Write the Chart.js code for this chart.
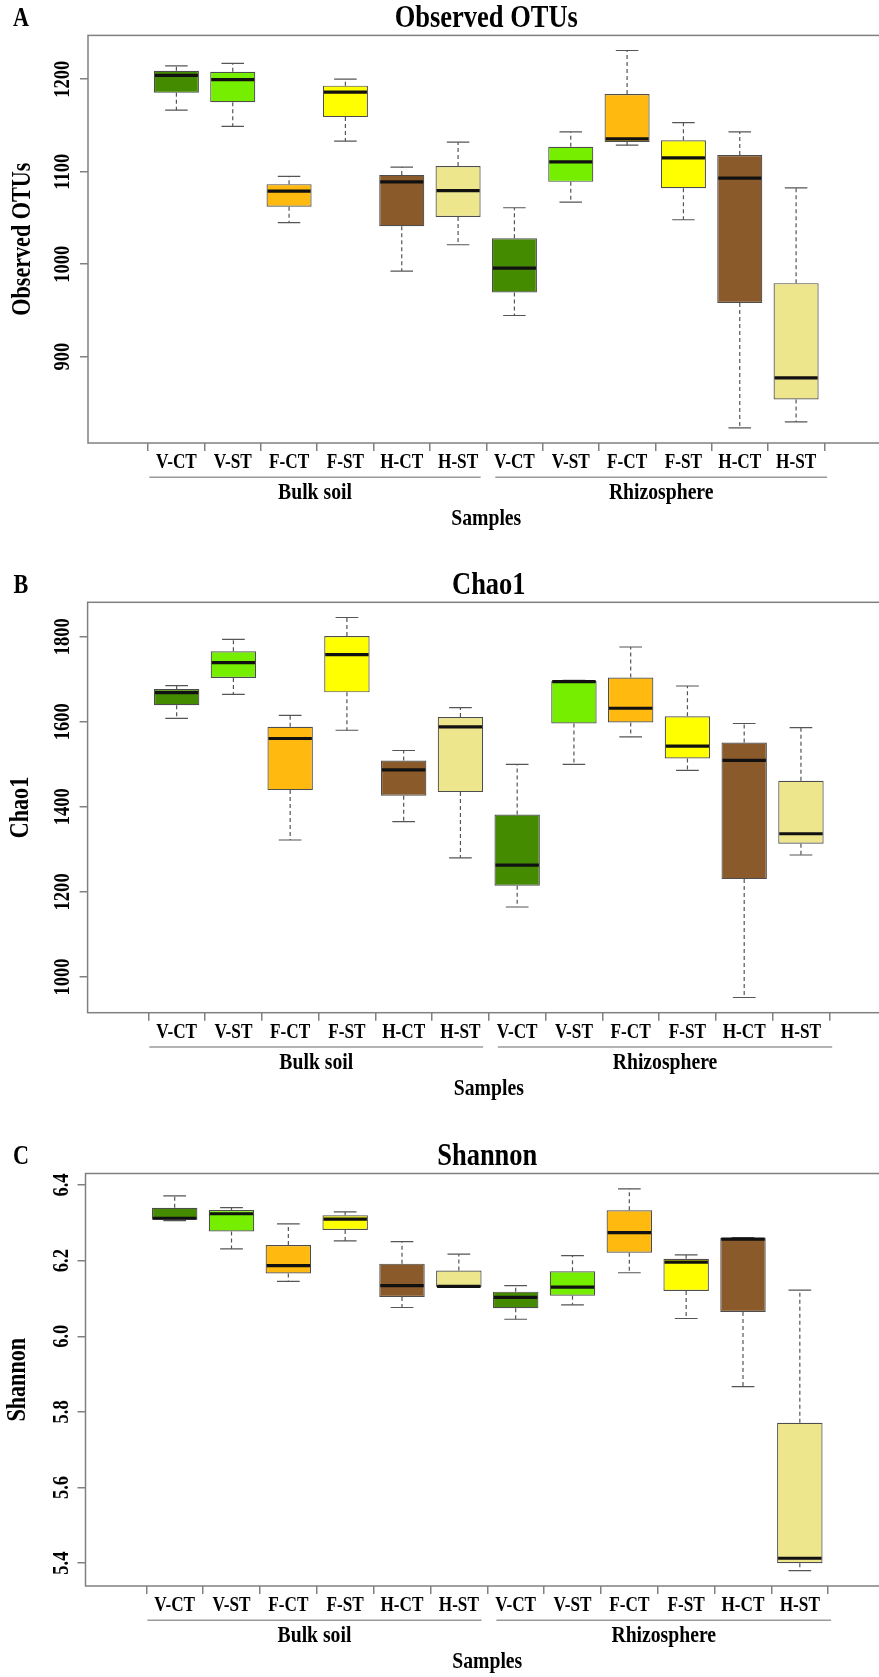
<!DOCTYPE html>
<html>
<head>
<meta charset="utf-8">
<script src="https://cdn.jsdelivr.net/npm/chart.js@4.4.1/dist/chart.umd.min.js"></script>
<style>
  html, body { margin: 0; padding: 0; background: #fff; overflow: hidden; }
  #page { position: relative; width: 879px; height: 1677px; overflow: hidden; background: #fff; }
  #page canvas { position: absolute; left: 0; }
</style>
</head>
<body>
<div id="page">
  <canvas id="chartA" width="892" height="545" style="top:0px"></canvas>
  <canvas id="chartB" width="892" height="550" style="top:560px"></canvas>
  <canvas id="chartC" width="892" height="553" style="top:1130px"></canvas>
</div>
<script>
// --- data ---
const categories = ["V-CT", "V-ST", "F-CT", "F-ST", "H-CT", "H-ST",
                    "V-CT", "V-ST", "F-CT", "F-ST", "H-CT", "H-ST"];
const groups = ["Bulk soil", "Rhizosphere"];
const boxColors = ["#458B00", "#76EE00", "#FFB90F", "#FFFF00", "#8B5A2B", "#EEE68C",
                   "#458B00", "#76EE00", "#FFB90F", "#FFFF00", "#8B5A2B", "#EEE68C"];

// Observed OTUs
const otuLow    = [1166.5, 1149, 1045, 1133, 992.5, 1021, 944.5, 1067, 1128.6, 1048, 823, 829.5];
const otuQ1     = [1185.2, 1175, 1062, 1159, 1041, 1051, 969.4, 1089, 1132, 1082, 958, 853.7];
const otuMedian = [1204, 1199.6, 1079, 1186, 1089, 1079.5, 995.7, 1110.6, 1135.5, 1115, 1093, 877];
const otuQ3     = [1209, 1208, 1086.5, 1193, 1096.5, 1106, 1028, 1127, 1184, 1134, 1118, 979.5];
const otuHigh   = [1214.4, 1217, 1095, 1200, 1105, 1132, 1061, 1143, 1231, 1153, 1143, 1082.5];
const otuTicks  = [900, 1000, 1100, 1200];

// Chao1
const chaoLow    = [1608, 1664.5, 1322, 1580, 1365, 1280, 1164.5, 1499.5, 1564.5, 1485.5, 951.7, 1286.7];
const chaoQ1     = [1638.7, 1703, 1439.3, 1669, 1426, 1434.5, 1214.5, 1595.8, 1598, 1513.6, 1230, 1313];
const chaoMedian = [1668.5, 1739, 1560.5, 1757.7, 1487, 1588, 1263, 1694.4, 1631.7, 1542.5, 1509, 1336.7];
const chaoQ3     = [1677, 1765.5, 1588, 1801.5, 1509, 1611, 1382, 1696, 1703.7, 1613, 1551, 1461];
const chaoHigh   = [1685, 1793.7, 1615, 1845, 1532.4, 1633, 1499.5, 1697.4, 1775.6, 1684, 1595.8, 1586];
const chaoTicks  = [1000, 1200, 1400, 1600, 1800];

// Shannon
const shannonLow    = [6.306, 6.231, 6.145, 6.252, 6.076, 6.130, 6.045, 6.083, 6.168, 6.047, 5.867, 5.380];
const shannonQ1     = [6.308, 6.277, 6.166, 6.281, 6.104, 6.130, 6.074, 6.107, 6.221, 6.120, 6.064, 5.400];
const shannonMedian = [6.312, 6.324, 6.187, 6.310, 6.134, 6.132, 6.103, 6.130, 6.274, 6.196, 6.257, 5.413];
const shannonQ3     = [6.340, 6.334, 6.241, 6.320, 6.192, 6.174, 6.118, 6.172, 6.333, 6.205, 6.260, 5.771];
const shannonHigh   = [6.371, 6.340, 6.297, 6.329, 6.250, 6.217, 6.134, 6.213, 6.390, 6.215, 6.261, 6.122];
const shannonTicks  = [5.4, 5.6, 5.8, 6.0, 6.2, 6.4];

const SERIF = '"Liberation Serif", "Times New Roman", Times, serif';
Chart.defaults.font.family = SERIF;
Chart.defaults.color = "#000";

// the figure uses a narrow bold serif: squeeze every glyph run along its own baseline
function condenseText(ctx, sx) {
  const fill = ctx.fillText.bind(ctx);
  ctx.fillText = function (text, x, y) {
    this.save();
    this.translate(x, y);
    this.scale(sx, 1);
    fill(text, 0, 0);
    this.restore();
  };
}

// frame, whiskers, medians, group rules, panel letter
function boxPlugin(p) {
  return {
    id: "box" + p.letter,
    afterDatasetsDraw(chart) {
      const { ctx } = chart;
      const xs = chart.scales.x, ys = chart.scales.y;
      const unit = xs.getPixelForValue(1) - xs.getPixelForValue(0);
      ctx.save();
      p.low.forEach((lo, i) => {
        const x = xs.getPixelForValue(i + 1);
        const yLo = ys.getPixelForValue(lo);
        const yHi = ys.getPixelForValue(p.high[i]);
        const yQ1 = ys.getPixelForValue(p.q1[i]);
        const yQ3 = ys.getPixelForValue(p.q3[i]);
        const yMed = ys.getPixelForValue(p.median[i]);
        ctx.strokeStyle = "#555";
        ctx.lineWidth = 1.2;
        ctx.setLineDash([4, 3]);
        ctx.beginPath();
        ctx.moveTo(x, yQ3); ctx.lineTo(x, yHi);
        ctx.moveTo(x, yQ1); ctx.lineTo(x, yLo);
        ctx.stroke();
        ctx.setLineDash([]);
        ctx.beginPath();
        ctx.moveTo(x - 0.2 * unit, yHi); ctx.lineTo(x + 0.2 * unit, yHi);
        ctx.moveTo(x - 0.2 * unit, yLo); ctx.lineTo(x + 0.2 * unit, yLo);
        ctx.stroke();
        ctx.strokeStyle = "#111";
        ctx.lineWidth = 3.2;
        ctx.beginPath();
        ctx.moveTo(x - 0.4 * unit + 1, yMed); ctx.lineTo(x + 0.4 * unit - 1, yMed);
        ctx.stroke();
      });
      ctx.restore();
    },
    afterDraw(chart) {
      const { ctx, chartArea: a } = chart;
      const xs = chart.scales.x;
      ctx.save();
      ctx.strokeStyle = "#808080";
      ctx.lineWidth = 1.5;
      ctx.strokeRect(a.left, a.top, a.right - a.left, a.bottom - a.top);

      const spans = [[0.52, 6.4], [6.66, 12.55]];
      ctx.fillStyle = "#000";
      ctx.textAlign = "center";
      ctx.textBaseline = "middle";
      ctx.font = "bold 24px " + SERIF;
      groups.forEach((g, k) => {
        const x0 = xs.getPixelForValue(spans[k][0]);
        const x1 = xs.getPixelForValue(spans[k][1]);
        ctx.strokeStyle = "#9a9a9a";
        ctx.lineWidth = 1.5;
        ctx.beginPath();
        ctx.moveTo(x0, a.bottom + 34.3); ctx.lineTo(x1, a.bottom + 34.3);
        ctx.stroke();
        ctx.fillText(g, (x0 + x1) / 2, a.bottom + 50);
      });

      ctx.font = "bold 27px " + SERIF;
      ctx.fillText(p.letter, 21, p.titleY);
      ctx.restore();
    },
  };
}

function makePanel(canvasId, p) {
  const canvas = document.getElementById(canvasId);
  const ctx = canvas.getContext("2d");
  condenseText(ctx, 0.82);
  const lo = Math.min(...p.low), hi = Math.max(...p.high);
  const pad = 0.04 * (hi - lo);
  const H = canvas.height, W = canvas.width;

  return new Chart(ctx, {
    type: "bar",
    data: {
      datasets: [{
        data: p.q1.map((v, i) => ({ x: i + 1, y: [v, p.q3[i]] })),
        backgroundColor: boxColors,
        borderColor: "#4d4d4d",
        borderWidth: 1.2,
        borderSkipped: false,
        categoryPercentage: 1,
        barPercentage: 0.8,
      }],
    },
    options: {
      responsive: false,
      animation: false,
      devicePixelRatio: 1,
      events: [],
      layout: {
        padding: { left: 0, top: 0, right: W - p.right, bottom: H - p.bottom - 95 },
      },
      plugins: {
        legend: { display: false },
        tooltip: { enabled: false },
        title: {
          display: true,
          text: p.title,
          fullSize: false,
          color: "#000",
          font: { size: 32.3, weight: "bold", lineHeight: 1 },
          padding: { top: p.titleY - 16.15, bottom: p.top - p.titleY - 16.15 },
        },
      },
      scales: {
        x: {
          type: "linear",
          bounds: "data",
          min: 0.02,
          max: 12.98,
          afterBuildTicks: (s) => { s.ticks = categories.map((c, i) => ({ value: i + 1 })); },
          afterFit: (s) => { s.height = 95; },
          ticks: {
            callback: (v, i) => categories[i],
            autoSkip: false,
            minRotation: 0,
            maxRotation: 0,
            padding: 1.5,
            color: "#000",
            font: { size: 21, weight: "bold", lineHeight: 1 },
          },
          grid: { drawOnChartArea: false, drawTicks: true, tickLength: 8, color: "#808080", lineWidth: 1.5 },
          border: { display: false },
          title: {
            display: true,
            text: "Samples",
            color: "#000",
            font: { size: 24, weight: "bold", lineHeight: 1 },
            padding: { top: 0, bottom: 7 },
          },
        },
        y: {
          type: "linear",
          bounds: "data",
          min: lo - pad,
          max: hi + pad,
          afterBuildTicks: (s) => { s.ticks = p.ticks.map((v) => ({ value: v })); },
          afterFit: (s) => { s.width = p.left; },
          ticks: {
            callback: p.fmt,
            minRotation: 90,
            maxRotation: 90,
            crossAlign: "center",
            padding: p.tickPad,
            color: "#000",
            font: { size: 22.6, weight: "bold", lineHeight: 1 },
          },
          grid: { drawOnChartArea: false, drawTicks: true, tickLength: 8, color: "#808080", lineWidth: 1.5 },
          border: { display: false },
          title: {
            display: true,
            text: p.yTitle,
            color: "#000",
            font: { size: 27, weight: "bold", lineHeight: 1 },
            padding: { top: p.yTitleX - 13.5, bottom: 0 },
          },
        },
      },
    },
    plugins: [boxPlugin(p)],
  });
}

makePanel("chartA", {
  letter: "A", title: "Observed OTUs", yTitle: "Observed OTUs",
  low: otuLow, q1: otuQ1, median: otuMedian, q3: otuQ3, high: otuHigh, ticks: otuTicks,
  fmt: (v) => String(v),
  top: 35.4, bottom: 443, left: 88, right: 884.5, titleY: 19, yTitleX: 23.3, tickPad: -5.6,
});
makePanel("chartB", {
  letter: "B", title: "Chao1", yTitle: "Chao1",
  low: chaoLow, q1: chaoQ1, median: chaoMedian, q3: chaoQ3, high: chaoHigh, ticks: chaoTicks,
  fmt: (v) => String(v),
  top: 42.3, bottom: 452.7, left: 87.6, right: 890, titleY: 26, yTitleX: 21.3, tickPad: -6.6,
});
makePanel("chartC", {
  letter: "C", title: "Shannon", yTitle: "Shannon",
  low: shannonLow, q1: shannonQ1, median: shannonMedian, q3: shannonQ3, high: shannonHigh, ticks: shannonTicks,
  fmt: (v) => v.toFixed(1),
  top: 43.5, bottom: 456, left: 85.5, right: 889, titleY: 27, yTitleX: 18, tickPad: 0.9,
});
</script>
</body>
</html>
